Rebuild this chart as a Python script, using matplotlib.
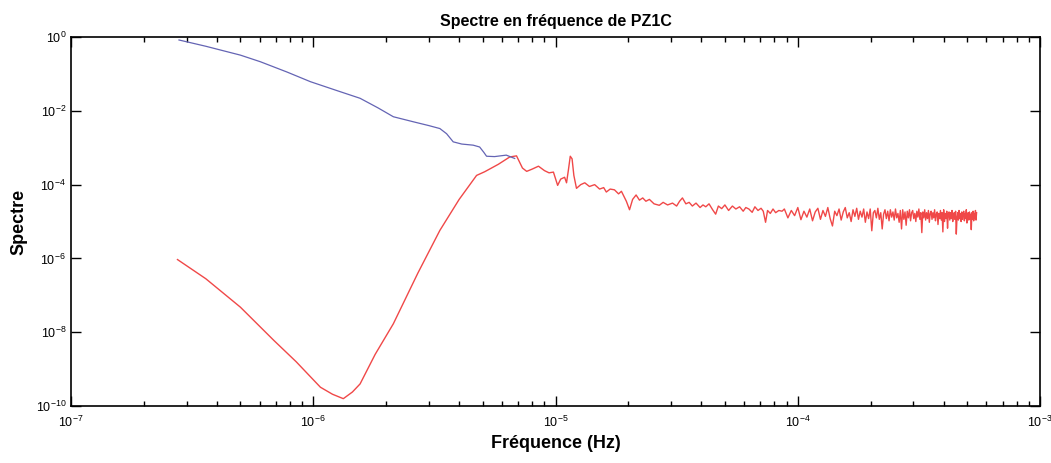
import numpy as np
import matplotlib
matplotlib.use('Agg')
import matplotlib.pyplot as plt
from matplotlib.ticker import LogLocator, NullLocator

plt.rcParams['font.family'] = ['Liberation Sans', 'DejaVu Sans']
plt.rcParams['mathtext.fontset'] = 'custom'
plt.rcParams['mathtext.rm'] = 'Liberation Sans'

# Blue curve: frequency (microHz) and log10 of spectrum
blue_freq_uhz = [0.279, 0.36, 0.50, 0.605, 0.78, 0.973, 1.25, 1.56, 1.85, 2.14,
                 2.6, 3.0, 3.33, 3.55, 3.78, 4.1, 4.57, 4.86, 5.05, 5.19,
                 5.6, 6.26, 6.78]
blue_log_spec = [-0.08, -0.25, -0.49, -0.67, -0.95, -1.21, -1.45, -1.66, -1.92, -2.16,
                 -2.30, -2.40, -2.48, -2.62, -2.84, -2.90, -2.93, -2.98, -3.12, -3.23,
                 -3.24, -3.20, -3.29]

# Red curve, low-frequency V part
red_low_freq_uhz = [0.275, 0.36, 0.50, 0.687, 0.85, 1.07, 1.2, 1.33, 1.45, 1.56,
                    1.8, 2.14, 2.7, 3.33, 4.0, 4.72, 5.10, 5.8, 6.47]
red_low_log_spec = [-6.03, -6.55, -7.32, -8.22, -8.80, -9.49, -9.68, -9.80, -9.62, -9.40,
                    -8.60, -7.77, -6.40, -5.24, -4.40, -3.75, -3.65, -3.45, -3.25]

# Red curve, middle part (tidal peak)
red_mid_freq_uhz = [6.9, 7.3, 7.6, 8.0, 8.5, 9.0, 9.4, 9.8, 10.2, 10.5,
                    10.9, 11.1, 11.3, 11.5, 11.7, 11.9, 12.2, 12.7, 13.2, 13.8,
                    14.5, 15.2, 15.8, 16.2, 16.8, 17.5, 18.2, 18.7, 19.1, 19.6,
                    20.2, 20.8, 21.5, 22.2, 22.9, 23.6, 24.4, 25.5, 26.8, 27.8,
                    29.0, 30.4, 31.6, 32.5, 33.4, 34.5, 35.6, 36.7, 38.0, 39.5,
                    40.6, 41.7, 43.0, 44.5, 45.8, 47.0, 48.5, 50.0, 51.8, 53.7,
                    55.5, 57.5, 59.5, 61.0, 62.8, 64.8, 66.5, 68.5, 70.5, 72.0,
                    73.6, 75.0, 77.0, 79.0, 81.0, 83.5, 86.1]
red_mid_log_spec = [-3.22, -3.55, -3.64, -3.58, -3.50, -3.62, -3.68, -3.66, -4.02, -3.85,
                    -3.80, -3.95, -3.60, -3.23, -3.30, -3.75, -4.10, -4.00, -3.95, -4.05,
                    -4.00, -4.12, -4.08, -4.20, -4.12, -4.14, -4.25, -4.18, -4.30, -4.45,
                    -4.68, -4.40, -4.28, -4.42, -4.36, -4.45, -4.40, -4.52, -4.56, -4.48,
                    -4.55, -4.50, -4.58, -4.45, -4.36, -4.52, -4.48, -4.58, -4.50, -4.62,
                    -4.55, -4.60, -4.52, -4.68, -4.80, -4.58, -4.65, -4.55, -4.70, -4.58,
                    -4.66, -4.60, -4.72, -4.62, -4.66, -4.75, -4.60, -4.70, -4.64, -4.72,
                    -5.02, -4.70, -4.78, -4.66, -4.76, -4.70, -4.72]

# Red curve, high-frequency noisy band
red_band_freq_uhz = [88, 91, 94, 97, 100, 103, 106, 109, 112, 115,
                     118, 121, 124, 127, 130, 133, 136, 139, 142, 145,
                     148, 151, 154, 157, 160, 163, 166, 169, 172, 175,
                     178, 181, 184, 187, 190, 193, 196, 199, 202, 205,
                     208, 211, 214, 217, 220, 223, 226, 229, 232, 235,
                     238, 241, 244, 247, 250, 253, 256, 259, 262, 265,
                     268, 271, 274, 277, 280, 283, 286, 289, 292, 295,
                     298, 301, 304, 307, 310, 313, 316, 319, 322, 325,
                     328, 331, 334, 337, 340, 343, 346, 349, 352, 355,
                     358, 361, 364, 367, 370, 373, 376, 379, 382, 385,
                     388, 391, 394, 397, 400, 403, 406, 409, 412, 415,
                     418, 421, 424, 427, 430, 433, 436, 439, 442, 445,
                     448, 451, 454, 457, 460, 463, 466, 469, 472, 475,
                     478, 481, 484, 487, 490, 493, 496, 499, 502, 505,
                     508, 511, 514, 517, 520, 523, 526, 529, 532, 535,
                     538, 541, 544, 547]
red_band_log_spec = [-4.66, -4.90, -4.70, -4.84, -4.62, -4.95, -4.72, -4.88, -4.66, -4.98,
                     -4.74, -4.64, -4.94, -4.70, -4.86, -4.62, -4.92, -5.12, -4.72, -4.84,
                     -4.66, -4.96, -4.74, -4.62, -4.90, -4.76, -5.00, -4.68, -4.86, -4.64,
                     -4.94, -4.72, -4.88, -4.66, -5.02, -4.74, -4.92, -4.66, -5.25, -4.76,
                     -4.70, -4.90, -4.64, -4.94, -4.76, -5.20, -4.80, -4.68, -4.92, -4.72,
                     -4.98, -4.68, -4.88, -4.74, -4.96, -4.66, -4.90, -4.78, -5.02, -4.70,
                     -5.20, -4.68, -4.94, -4.74, -5.10, -4.72, -4.90, -4.68, -4.98, -4.76,
                     -4.70, -4.92, -4.78, -5.00, -4.72, -4.88, -4.66, -4.94, -4.76, -5.30,
                     -4.74, -4.90, -4.68, -4.96, -4.76, -4.92, -4.70, -5.02, -4.78, -4.72,
                     -4.94, -4.76, -4.90, -4.68, -4.98, -4.80, -4.74, -5.08, -4.78, -4.92,
                     -4.70, -4.96, -4.76, -5.28, -4.68, -5.00, -4.78, -4.92, -4.72, -5.18,
                     -4.80, -4.74, -4.96, -4.76, -4.92, -4.70, -5.00, -4.80, -4.76, -4.94,
                     -4.72, -5.34, -4.90, -4.76, -4.96, -4.70, -4.92, -4.78, -5.00, -4.74,
                     -4.94, -4.80, -4.72, -4.98, -4.78, -4.92, -4.68, -5.04, -4.80, -4.76,
                     -4.96, -4.74, -4.92, -4.80, -5.22, -4.76, -4.94, -4.72, -4.98, -4.78,
                     -4.92, -4.70, -4.96, -4.76]

red_freq = np.array(red_low_freq_uhz + red_mid_freq_uhz + red_band_freq_uhz) * 1e-6
red_spec = 10.0 ** np.array(red_low_log_spec + red_mid_log_spec + red_band_log_spec)
blue_freq = np.array(blue_freq_uhz) * 1e-6
blue_spec = 10.0 ** np.array(blue_log_spec)

fig = plt.figure(figsize=(10.51, 4.63), dpi=100)
ax = fig.add_axes([0.0676, 0.123, 0.922, 0.797])

ax.loglog(red_freq, red_spec, color='#f04848', lw=1.0)
ax.loglog(blue_freq, blue_spec, color='#6464b4', lw=0.9)

ax.set_xlim(1e-7, 1e-3)
ax.set_ylim(1e-10, 1e0)
ax.set_yticks([1e-10, 1e-8, 1e-6, 1e-4, 1e-2, 1e0])
ax.yaxis.set_minor_locator(NullLocator())
ax.xaxis.set_major_locator(LogLocator(base=10))
ax.xaxis.set_minor_locator(LogLocator(base=10, subs=np.arange(2, 10)))

ax.tick_params(which='both', direction='in', top=True, right=True, labelsize=9, width=1)
ax.tick_params(which='major', length=7)
ax.tick_params(which='minor', length=3.5)
ax.tick_params(axis='x', pad=6)
for s in ax.spines.values():
    s.set_linewidth(1.2)

ax.set_title('Spectre en fréquence de PZ1C', fontsize=11.5, fontweight='bold', pad=8)
ax.set_xlabel('Fréquence (Hz)', fontsize=13, fontweight='bold', labelpad=4)
ax.set_ylabel('Spectre', fontsize=13, fontweight='bold', labelpad=6)

plt.savefig('out.png', dpi=100)
